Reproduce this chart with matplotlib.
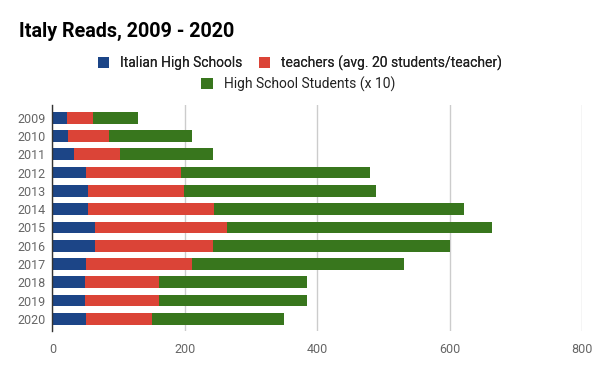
import matplotlib.pyplot as plt
from matplotlib.patches import Patch

plt.rcParams['font.family'] = ['Roboto', 'DejaVu Sans']

# data (segment lengths, stacked)
years = ['2009', '2010', '2011', '2012', '2013', '2014',
         '2015', '2016', '2017', '2018', '2019', '2020']
schools = [22, 24, 33, 51, 54, 54, 65, 65, 51, 49, 49, 51]
teachers = [39, 62, 69, 143, 145, 190, 199, 178, 160, 112, 112, 100]
students_x10 = [69, 125, 140, 286, 290, 378, 400, 358, 320, 223, 223, 199]

labels = ['Italian High Schools', 'teachers (avg. 20 students/teacher)',
          'High School Students (x 10)']
colors = ['#1c4587', '#db4437', '#38761d']
x_ticks = [0, 200, 400, 600, 800]

fig = plt.figure(figsize=(6, 3.71), dpi=100)
ax = fig.add_axes([0.0872, 0.108, 0.8833, 0.609])

pos = list(range(len(years)))
left2 = [a + b for a, b in zip(schools, teachers)]
ax.barh(pos, schools, height=0.64, color=colors[0], zorder=3)
ax.barh(pos, teachers, left=schools, height=0.64, color=colors[1], zorder=3)
ax.barh(pos, students_x10, left=left2, height=0.64, color=colors[2], zorder=3)

ax.set_ylim(11.66, -0.70)
ax.set_xlim(0, 800)
ax.set_yticks(pos)
ax.set_yticklabels(years)
ax.set_xticks(x_ticks)
ax.tick_params(axis='both', length=0, labelsize=9, labelcolor='#666666')
ax.tick_params(axis='y', pad=5)
ax.tick_params(axis='x', pad=9)
ax.grid(axis='x', color='#cccccc', linewidth=1, zorder=0)
for s in ['top', 'right', 'bottom']:
    ax.spines[s].set_visible(False)
ax.spines['left'].set_color('#333333')
ax.spines['left'].set_linewidth(1)
ax.spines['left'].set_zorder(4)

fig.text(0.032, 0.9, 'Italy Reads, 2009 - 2020', fontsize=14.2, fontweight='bold',
         color='#000000', va='baseline')

h = [Patch(facecolor=c) for c in colors]
leg1 = fig.legend(h[:2], labels[:2], loc='center', bbox_to_anchor=(0.5, 0.83),
                  ncol=2, frameon=False, fontsize=10, handlelength=0.8,
                  handleheight=0.8, handletextpad=0.8, columnspacing=1.2,
                  labelcolor='#222222')
fig.add_artist(leg1)
fig.legend(h[2:], labels[2:], loc='center', bbox_to_anchor=(0.497, 0.773),
           frameon=False, fontsize=10, handlelength=0.8, handleheight=0.8,
           handletextpad=0.8, labelcolor='#222222')

fig.savefig('out.png', dpi=100)
